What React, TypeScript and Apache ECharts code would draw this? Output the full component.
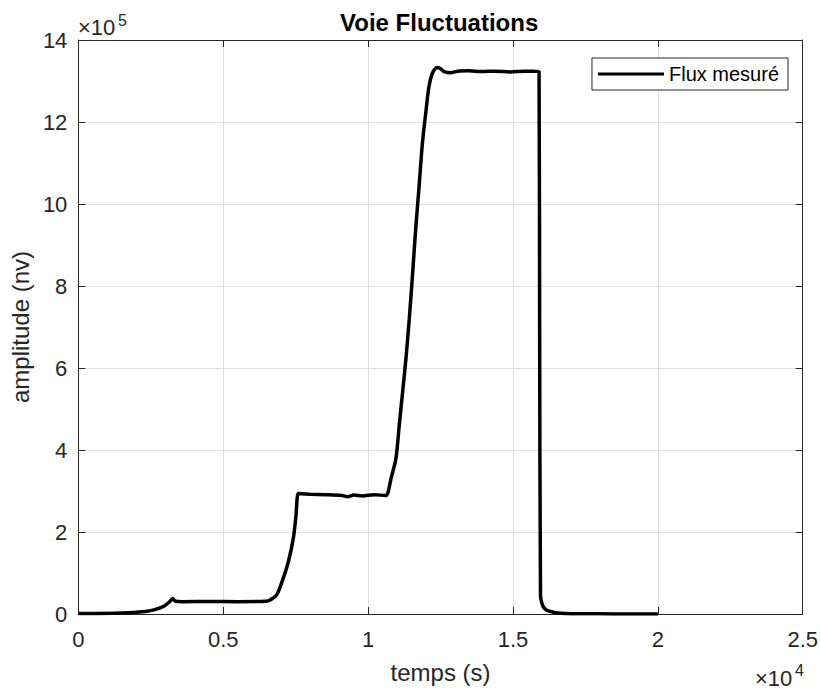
import React, { useEffect, useRef } from "react";
import * as echarts from "echarts";

// time (s)
const timeSec = [
  0, 1500, 2300, 2600, 2950, 3150, 3250, 3350, 3600, 4500, 5500, 6300, 6550,
  6700, 6850, 7060, 7250, 7420, 7510, 7590, 7700, 8000, 8500, 9100, 9300, 9500,
  9800, 10200, 10620, 10700, 10790, 10960, 11075, 11190, 11305, 11420, 11530,
  11650, 11760, 11875, 11990, 12100, 12220, 12390, 12500, 12620, 12850, 13100,
  13475, 13900, 14400, 14900, 15400, 15900, 15920, 15950, 15990, 16050, 16150,
  16330, 16550, 16790, 17500, 18500, 20000,
];

// measured flux amplitude (nv)
const fluxValues = [
  1000, 2500, 6000, 10000, 19000, 30000, 38000, 31000, 30000, 30500, 30000,
  30500, 32000, 38000, 47000, 85000, 128000, 185000, 240000, 294000, 293000,
  292000, 291000, 289000, 286000, 290000, 288000, 291000, 289000, 300000,
  330000, 379000, 460000, 541000, 622000, 719000, 824000, 946000, 1043000,
  1149000, 1222000, 1286000, 1319000, 1333000, 1330000, 1323000, 1320000,
  1324000, 1325000, 1323000, 1324000, 1322000, 1324000, 1323000, 700000, 45000,
  28000, 17000, 10000, 5500, 2500, 1200, 500, 200, 0,
];

const xTickLabels = ["0", "0.5", "1", "1.5", "2", "2.5"];
const yTickLabels = ["0", "2", "4", "6", "8", "10", "12", "14"];

const FONT = "'Liberation Sans', Arial, Helvetica, sans-serif";
const AX = "#262626";
const GRID = "#dfdfdf";

export default function App() {
  const ref = useRef<HTMLDivElement>(null);

  useEffect(() => {
    if (!ref.current) return;
    const chart = echarts.init(ref.current, undefined, { renderer: "svg" });

    const xCommon = {
      type: "value" as const,
      min: 0,
      max: 25000,
      interval: 5000,
      axisLine: { show: true, onZero: false, lineStyle: { color: AX, width: 1 } },
      axisTick: { show: true, inside: true, length: 7, lineStyle: { color: AX } },
    };
    const yCommon = {
      type: "value" as const,
      min: 0,
      max: 1400000,
      interval: 200000,
      axisLine: { show: true, onZero: false, lineStyle: { color: AX, width: 1 } },
      axisTick: { show: true, inside: true, length: 7, lineStyle: { color: AX } },
    };

    chart.setOption({
      animation: false,
      backgroundColor: "#fff",
      textStyle: { fontFamily: FONT },
      title: {
        text: "Voie Fluctuations",
        left: 340,
        top: 10,
        padding: 0,
        textStyle: { fontSize: 24, fontWeight: "bold", color: "#000", fontFamily: FONT },
      },
      legend: {
        data: ["Flux mesuré"],
        right: 33,
        top: 58,
        icon: "rect",
        itemWidth: 66,
        itemHeight: 3,
        padding: [6, 9, 6, 6],
        borderColor: AX,
        borderWidth: 1,
        borderRadius: 0,
        backgroundColor: "#fff",
        textStyle: { fontSize: 20, color: "#000", fontFamily: FONT },
      },
      grid: { left: 77, right: 15, top: 40, bottom: 73, containLabel: false },
      xAxis: [
        {
          ...xCommon,
          position: "bottom",
          name: "temps (s)",
          nameLocation: "middle",
          nameGap: 46,
          nameTextStyle: { fontSize: 24, color: AX, fontFamily: FONT },
          axisLabel: {
            show: true,
            margin: 14,
            fontSize: 22,
            color: AX,
            fontFamily: FONT,
            formatter: (v: number) => xTickLabels[Math.round(v / 5000)] ?? "",
          },
          splitLine: { show: true, lineStyle: { color: GRID, width: 1 } },
        },
        {
          ...xCommon,
          position: "top",
          axisLabel: { show: false },
          splitLine: { show: false },
        },
      ],
      yAxis: [
        {
          ...yCommon,
          position: "left",
          name: "amplitude (nv)",
          nameLocation: "middle",
          nameGap: 41,
          nameTextStyle: { fontSize: 24, color: AX, fontFamily: FONT },
          axisLabel: {
            show: true,
            margin: 11,
            fontSize: 22,
            color: AX,
            fontFamily: FONT,
            formatter: (v: number) => yTickLabels[Math.round(v / 200000)] ?? "",
          },
          splitLine: { show: true, lineStyle: { color: GRID, width: 1 } },
        },
        {
          ...yCommon,
          position: "right",
          axisLabel: { show: false },
          splitLine: { show: false },
        },
      ],
      graphic: [
        {
          type: "text",
          x: 78,
          y: 27,
          style: {
            text: "×10",
            fontSize: 22,
            fontFamily: FONT,
            fill: AX,
            verticalAlign: "middle",
            textVerticalAlign: "middle",
          },
        },
        {
          type: "text",
          x: 118,
          y: 20,
          style: {
            text: "5",
            fontSize: 16,
            fontFamily: FONT,
            fill: AX,
            verticalAlign: "middle",
            textVerticalAlign: "middle",
          },
        },
        {
          type: "text",
          x: 755,
          y: 678,
          style: {
            text: "×10",
            fontSize: 22,
            fontFamily: FONT,
            fill: AX,
            verticalAlign: "middle",
            textVerticalAlign: "middle",
          },
        },
        {
          type: "text",
          x: 795,
          y: 670,
          style: {
            text: "4",
            fontSize: 16,
            fontFamily: FONT,
            fill: AX,
            verticalAlign: "middle",
            textVerticalAlign: "middle",
          },
        },
      ],
      series: [
        {
          name: "Flux mesuré",
          type: "line",
          xAxisIndex: 0,
          yAxisIndex: 0,
          showSymbol: false,
          symbol: "none",
          smooth: 0.3,
          lineStyle: { color: "#000", width: 3.5 },
          itemStyle: { color: "#000" },
          data: timeSec.map((t, i) => [t, fluxValues[i]]),
        },
      ],
    });

    return () => chart.dispose();
  }, []);

  return (
    <div
      ref={ref}
      style={{ position: "absolute", left: 0, top: 0, width: 821, height: 689 }}
    />
  );
}
